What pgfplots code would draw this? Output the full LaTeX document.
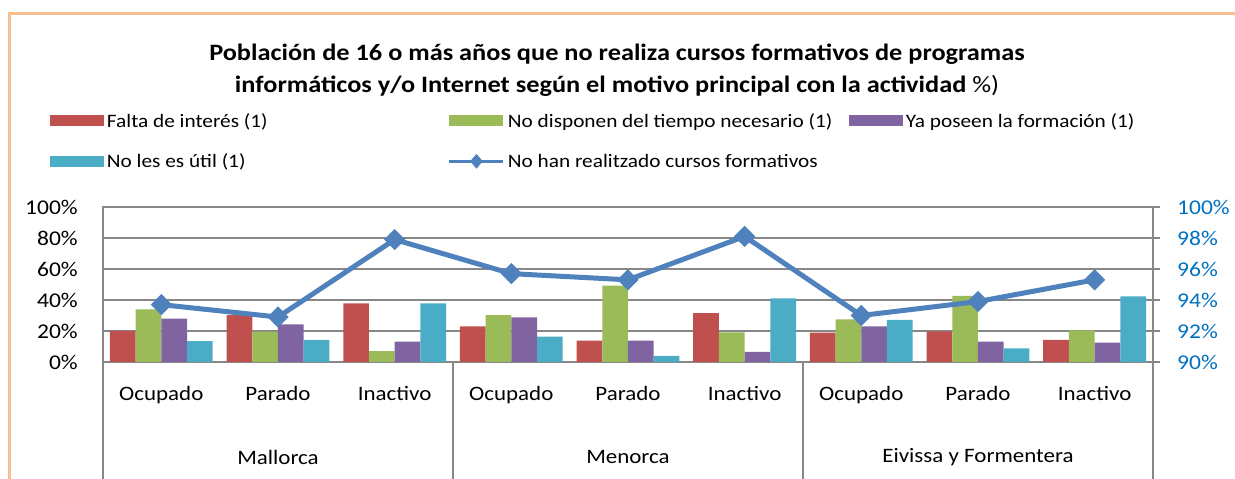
\documentclass[border=0pt]{standalone}
\usepackage{fontspec}
\setmainfont{Carlito}[FakeStretch=1.12]
\usepackage{pgfplots}
\pgfplotsset{compat=1.18}
\definecolor{cred}{HTML}{C0504D}
\definecolor{cgreen}{HTML}{9BBB59}
\definecolor{cpurple}{HTML}{8064A2}
\definecolor{ccyan}{HTML}{4BACC6}
\definecolor{lineblue}{HTML}{4F81BD}
\definecolor{tickblue}{HTML}{0070C0}
\definecolor{gridgray}{HTML}{878787}
\definecolor{frameor}{HTML}{F9BF8F}
\begin{document}
\begin{tikzpicture}[x=1bp,y=1bp]
\useasboundingbox (0,0) rectangle (1235,479);
\draw[color=frameor, line width=2.5bp] (9.5,0) -- (9.5,465.7) -- (1235,465.7);
\node[align=center, font=\fontsize{23.5bp}{32bp}\selectfont] at (617,409)
  {\textbf{Población de 16 o más años que no realiza cursos formativos de programas}\\
   \textbf{informáticos y/o Internet según el motivo principal con la actividad} \%)};
\begin{axis}[
  at={(103bp,117bp)}, anchor=south west, scale only axis,
  width=1050bp, height=155bp,
  xmin=-0.5, xmax=8.5, ymin=0, ymax=100,
  ybar=0pt, bar width=25.7bp,
  clip=false,
  xtick pos=bottom,
  xtick={0,...,8},
  xticklabels={Ocupado,Parado,Inactivo,Ocupado,Parado,Inactivo,Ocupado,Parado,Inactivo},
  x tick label style={anchor=center, yshift=-34bp, text height=14bp, text depth=4bp,
     font=\fontsize{20.5bp}{24bp}\selectfont},
  major tick length=0pt,
  extra x ticks={-0.5,2.5,5.5,8.5},
  extra x tick labels={},
  extra x tick style={major tick length=117bp, tick align=outside, grid=none,
     tick style={draw=gridgray, line width=1.3bp}},
  ytick={0,20,...,100},
  /pgf/number format/assume math mode=true,
  yticklabel={\pgfmathprintnumber{\tick}\%},
  yticklabel style={inner sep=0pt, xshift=-25bp, font=\fontsize{21bp}{24bp}\selectfont},
  ymajorgrids,
  grid style={draw=gridgray, line width=1.3bp},
  axis line style={draw=gridgray, line width=1.3bp},
  legend columns=3,
  legend style={draw=none, fill=none, inner sep=0pt, outer sep=0pt,
    column sep=0pt, row sep=25bp,
    font=\fontsize{19bp}{22bp}\selectfont,
    nodes={inner sep=0pt},
    at={(axis description cs:-0.0505,1.605)}, anchor=north west},
  legend image code/.code={\fill[#1] (0bp,-5.5bp) rectangle (54bp,5.5bp);},
]
\addplot[fill=cred, draw=none] coordinates {(0,20.0) (1,30.3) (2,37.8) (3,23.0) (4,13.8) (5,31.6) (6,18.9) (7,19.8) (8,14.2)};
\addlegendentry{\makebox[344bp][l]{\hspace{3bp}Falta de interés (1)}}
\addplot[fill=cgreen, draw=none] coordinates {(0,34.0) (1,19.6) (2,7.0) (3,30.3) (4,49.2) (5,19.1) (6,27.5) (7,42.6) (8,20.4)};
\addlegendentry{\makebox[344bp][l]{\hspace{3bp}No disponen del tiempo necesario (1)}}
\addplot[fill=cpurple, draw=none] coordinates {(0,28.0) (1,24.3) (2,13.1) (3,28.8) (4,13.8) (5,6.6) (6,23.0) (7,13.1) (8,12.5)};
\addlegendentry{\makebox[344bp][l]{\hspace{3bp}Ya poseen la formación (1)}}
\addplot[fill=ccyan, draw=none] coordinates {(0,13.5) (1,14.2) (2,37.8) (3,16.3) (4,3.9) (5,41.1) (6,27.1) (7,8.8) (8,42.4)};
\addlegendentry{\makebox[344bp][l]{\hspace{3bp}No les es útil (1)}}
\addlegendimage{legend image code/.code={
   \draw[lineblue, line width=3bp] (0bp,0bp) -- (54bp,0bp);
   \fill[lineblue] (27bp,-7bp) -- (33bp,0bp) -- (27bp,7bp) -- (21bp,0bp) -- cycle;}}
\addlegendentry{\makebox[344bp][l]{\hspace{3bp}No han realitzado cursos formativos}}
\node[font=\fontsize{20.5bp}{24bp}\selectfont] at (axis cs:1,-61.3) {Mallorca};
\node[font=\fontsize{20.5bp}{24bp}\selectfont] at (axis cs:4,-61.3) {Menorca};
\node[font=\fontsize{20.5bp}{24bp}\selectfont] at (axis cs:7,-61.3) {Eivissa y Formentera};
\end{axis}
\begin{axis}[
  at={(103bp,117bp)}, anchor=south west, scale only axis,
  width=1050bp, height=155bp,
  xmin=-0.5, xmax=8.5, ymin=90, ymax=100,
  clip=false,
  axis x line=none, axis y line*=right,
  ytick={90,92,...,100},
  /pgf/number format/assume math mode=true,
  yticklabel={\pgfmathprintnumber{\tick}\%},
  yticklabel style={color=tickblue, inner sep=0pt, xshift=17bp, font=\fontsize{21bp}{24bp}\selectfont},
  major tick length=7bp, tick align=outside,
  ytick style={draw=gridgray, line width=1.3bp},
  axis line style={draw=gridgray, line width=1.3bp},
]
\addplot[lineblue, line width=5bp, mark=square*, mark size=7bp, mark options={rotate=45, fill=lineblue, draw=lineblue, line width=1bp}]
  coordinates {(0,93.7) (1,92.9) (2,97.9) (3,95.7) (4,95.3) (5,98.1) (6,93.0) (7,93.9) (8,95.3)};
\end{axis}
\end{tikzpicture}
\end{document}
